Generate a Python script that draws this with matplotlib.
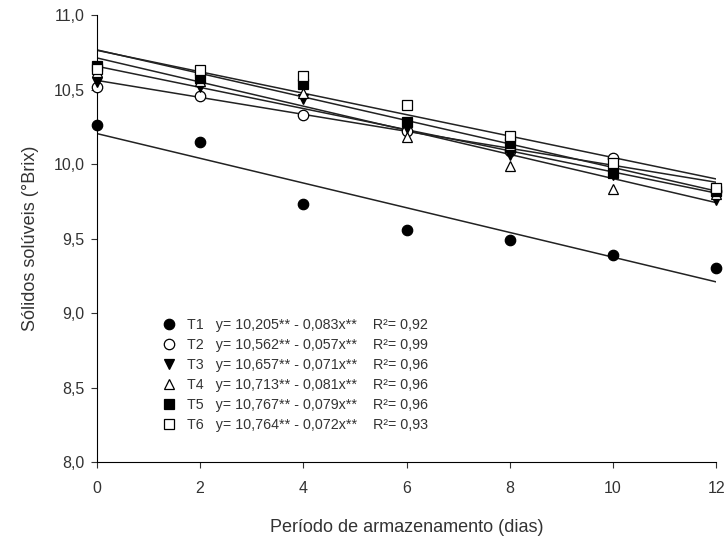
import numpy as np
import matplotlib
matplotlib.use("Agg")
import matplotlib.pyplot as plt
from matplotlib.ticker import FuncFormatter
from matplotlib.lines import Line2D

plt.rcParams['font.family'] = ['Liberation Sans', 'DejaVu Sans']

dias = [0, 2, 4, 6, 8, 10, 12]
t1 = [10.26, 10.15, 9.73, 9.56, 9.49, 9.39, 9.30]
t2 = [10.52, 10.46, 10.33, 10.22, 10.09, 10.04, 9.82]
t3 = [10.55, 10.52, 10.44, 10.24, 10.06, 9.93, 9.76]
t4 = [10.62, 10.56, 10.48, 10.18, 9.99, 9.83, 9.80]
t5 = [10.66, 10.58, 10.54, 10.28, 10.14, 9.94, 9.82]
t6 = [10.64, 10.63, 10.59, 10.40, 10.19, 10.01, 9.84]

names = ["T1", "T2", "T3", "T4", "T5", "T6"]
intercepts = [10.205, 10.562, 10.657, 10.713, 10.767, 10.764]
slopes = [0.083, 0.057, 0.071, 0.081, 0.079, 0.072]
r2 = [0.92, 0.99, 0.96, 0.96, 0.96, 0.93]

series = [t1, t2, t3, t4, t5, t6]
styles = [("o", "black"), ("o", "white"), ("v", "black"),
          ("^", "white"), ("s", "black"), ("s", "white")]

def fmt(v, nd):
    return f"{v:.{nd}f}".replace(".", ",")

fig = plt.figure(figsize=(7.28, 5.41), dpi=100)
ax = fig.add_axes([0.133, 0.146, 0.851, 0.826])

xs = np.array([0, 12])
handles, labels = [], []
for name, ys, (mk, fc), a, b, r in zip(names, series, styles, intercepts, slopes, r2):
    ax.plot(xs, a - b * xs, color="#222222", lw=1.1, zorder=2)
    ax.plot(dias, ys, ls="none", marker=mk, ms=7.5, mfc=fc, mec="black",
            mew=0.9, zorder=3, clip_on=False)
    handles.append(Line2D([], [], ls="none", marker=mk, ms=7.5, mfc=fc,
                          mec="black", mew=0.9))
    labels.append(f"{name}   y= {fmt(a, 3)}** - {fmt(b, 3)}x**    R²= {fmt(r, 2)}")

ax.set_xlim(0, 12)
ax.set_ylim(8.0, 11.0)
ax.set_xticks(range(0, 13, 2))
ax.set_yticks(np.arange(8.0, 11.01, 0.5))
ax.yaxis.set_major_formatter(FuncFormatter(lambda v, p: fmt(v, 1)))
ax.spines["top"].set_visible(False)
ax.spines["right"].set_visible(False)
ax.tick_params(labelsize=11.5, color="#333333", labelcolor="#333333", length=4)
ax.tick_params(axis="x", pad=10)
ax.tick_params(axis="y", pad=5)
ax.set_xlabel("Período de armazenamento (dias)", fontsize=13, color="#333333", labelpad=16)
ax.set_ylabel("Sólidos solúveis (°Brix)", fontsize=13, color="#333333", labelpad=10)

ax.legend(handles, labels, loc="upper left", bbox_to_anchor=(0.095, 0.335),
          frameon=False, fontsize=10.3, handletextpad=0.7, labelspacing=0.42,
          handlelength=1.1, borderaxespad=0, labelcolor="#333333")

fig.savefig("out.png", dpi=100)
